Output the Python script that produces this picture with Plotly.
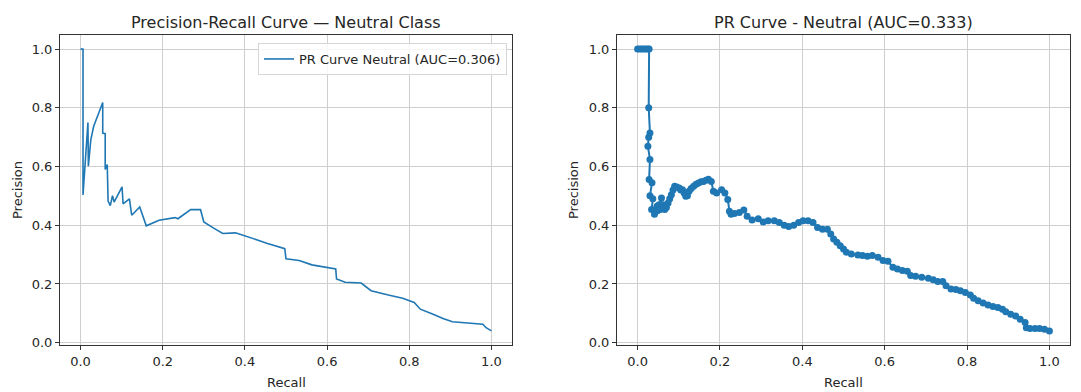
import plotly.graph_objects as go

W, H = 1081, 392
BLUE = "#1f77b4"
FONT = "DejaVu Sans"

# ---- Left chart: PR curve (AUC=0.306) ----
left_recall = [0.000, 0.006, 0.006, 0.018, 0.019, 0.025, 0.032, 0.040, 0.048, 0.054,
               0.054, 0.060, 0.060, 0.065, 0.067, 0.0724, 0.0778, 0.0817, 0.101, 0.1035,
               0.119, 0.1245, 0.144, 0.160, 0.191, 0.214, 0.230, 0.237, 0.268, 0.292,
               0.300, 0.323, 0.346, 0.377, 0.401, 0.432, 0.455, 0.479, 0.497, 0.500,
               0.532, 0.563, 0.598, 0.621, 0.623, 0.644, 0.683, 0.707, 0.749, 0.784,
               0.812, 0.827, 0.858, 0.882, 0.905, 0.952, 0.979, 0.987, 0.995, 1.000]
left_precision = [1.000, 1.000, 0.503, 0.750, 0.601, 0.691, 0.737, 0.768, 0.795, 0.818,
                  0.714, 0.712, 0.590, 0.607, 0.482, 0.467, 0.501, 0.479, 0.531, 0.473,
                  0.490, 0.434, 0.462, 0.398, 0.417, 0.422, 0.426, 0.422, 0.453, 0.453,
                  0.411, 0.391, 0.372, 0.374, 0.364, 0.349, 0.338, 0.327, 0.320, 0.286,
                  0.280, 0.265, 0.257, 0.251, 0.217, 0.206, 0.203, 0.177, 0.162, 0.151,
                  0.137, 0.114, 0.097, 0.082, 0.071, 0.065, 0.063, 0.051, 0.043, 0.040]

# ---- Right chart: PR curve (AUC=0.333) ----
right_recall = [0.000, 0.005, 0.010, 0.015, 0.020, 0.025, 0.028, 0.027, 0.030, 0.027,
                0.025, 0.030, 0.028, 0.035, 0.030, 0.037, 0.034, 0.041, 0.047, 0.048,
                0.052, 0.058, 0.055, 0.062, 0.066, 0.070, 0.074, 0.078, 0.082, 0.086,
                0.090, 0.095, 0.101, 0.105, 0.109, 0.113, 0.117, 0.121, 0.125, 0.130,
                0.136, 0.142, 0.148, 0.154, 0.160, 0.166, 0.172, 0.179,
                0.184, 0.192, 0.204, 0.212, 0.219, 0.223, 0.227, 0.235, 0.247, 0.258,
                0.266, 0.278, 0.293, 0.305, 0.317, 0.332, 0.344, 0.356, 0.367, 0.379,
                0.391, 0.402, 0.414, 0.426, 0.437, 0.449, 0.461, 0.469, 0.476, 0.484,
                0.492, 0.500, 0.507, 0.519, 0.535, 0.546, 0.558, 0.570, 0.584, 0.596,
                0.608, 0.620, 0.631, 0.643, 0.655, 0.663, 0.675, 0.690, 0.706, 0.718,
                0.729, 0.741, 0.749, 0.761, 0.773, 0.784, 0.796, 0.808, 0.816, 0.827,
                0.839, 0.851, 0.863, 0.875, 0.886, 0.894, 0.906, 0.918, 0.929, 0.941,
                0.944, 0.953, 0.965, 0.976, 0.988, 1.000]
right_precision = [1.000, 1.000, 1.000, 1.000, 1.000, 1.000, 1.000, 0.800, 0.714, 0.700,
                   0.669, 0.624, 0.556, 0.545, 0.500, 0.490, 0.454, 0.437, 0.465, 0.449,
                   0.470, 0.493, 0.454, 0.470, 0.454, 0.460, 0.476, 0.490, 0.504, 0.520,
                   0.533, 0.530, 0.527, 0.520, 0.521, 0.510, 0.499, 0.500, 0.516, 0.525,
                   0.533, 0.540, 0.544, 0.548, 0.549, 0.553, 0.557, 0.549,
                   0.516, 0.510, 0.521, 0.510, 0.488, 0.448, 0.437, 0.440, 0.443, 0.452,
                   0.431, 0.418, 0.422, 0.411, 0.415, 0.415, 0.409, 0.400, 0.396, 0.400,
                   0.409, 0.415, 0.415, 0.409, 0.392, 0.386, 0.386, 0.370, 0.353, 0.342,
                   0.330, 0.319, 0.308, 0.302, 0.299, 0.297, 0.294, 0.297, 0.291, 0.280,
                   0.277, 0.257, 0.251, 0.246, 0.243, 0.229, 0.226, 0.223, 0.219, 0.214,
                   0.208, 0.208, 0.194, 0.183, 0.181, 0.177, 0.171, 0.162, 0.151, 0.143,
                   0.135, 0.128, 0.123, 0.120, 0.114, 0.105, 0.097, 0.091, 0.080, 0.069,
                   0.051, 0.048, 0.048, 0.048, 0.046, 0.040]

tick_vals = [0.0, 0.2, 0.4, 0.6, 0.8, 1.0]
tick_text = ["0.0", "0.2", "0.4", "0.6", "0.8", "1.0"]

left_title = "Precision-Recall Curve — Neutral Class"
right_title = "PR Curve - Neutral (AUC=0.333)"
legend_name = "PR Curve Neutral (AUC=0.306)"

fig = go.Figure()
fig.add_trace(go.Scatter(x=left_recall, y=left_precision, mode="lines",
                         line=dict(color=BLUE, width=1.6), name=legend_name,
                         xaxis="x", yaxis="y", showlegend=True))
fig.add_trace(go.Scatter(x=right_recall, y=right_precision, mode="lines+markers",
                         line=dict(color=BLUE, width=2),
                         marker=dict(color=BLUE, size=7),
                         xaxis="x2", yaxis="y2", showlegend=False))

def px_x(p):
    return p / W

def px_y(p):
    return 1 - p / H

axis_common = dict(
    showgrid=True, gridcolor="#cfcfcf", gridwidth=1,
    showline=True, linecolor="#333333", linewidth=1, mirror=True,
    ticks="outside", ticklen=4, tickcolor="#333333",
    tickfont=dict(family=FONT, size=13, color="#262626"),
    zeroline=False, automargin=False,
    tickvals=tick_vals, ticktext=tick_text,
)

ydom = [px_y(345), px_y(35)]
fig.update_layout(
    width=W, height=H,
    margin=dict(l=0, r=0, t=0, b=0),
    paper_bgcolor="white", plot_bgcolor="white",
    font=dict(family=FONT, size=13, color="#262626"),
    xaxis=dict(domain=[px_x(60), px_x(512)], range=[-0.05, 1.05], anchor="y", **axis_common),
    yaxis=dict(domain=ydom, range=[-0.008, 1.048], anchor="x", **axis_common),
    xaxis2=dict(domain=[px_x(617), px_x(1070)], range=[-0.05, 1.05], anchor="y2", **axis_common),
    yaxis2=dict(domain=ydom, range=[-0.008, 1.048], anchor="x2", **axis_common),
    legend=dict(x=px_x(507), y=px_y(43), xanchor="right", yanchor="top",
                bgcolor="rgba(255,255,255,0.8)", bordercolor="#d6d6d6", borderwidth=1,
                font=dict(family=FONT, size=13, color="#262626"),
                itemwidth=30, tracegroupgap=0),
    showlegend=True,
)

annots = [
    dict(text=left_title, x=px_x(286), y=px_y(22), font=dict(size=16)),
    dict(text=right_title, x=px_x(843.5), y=px_y(22), font=dict(size=16)),
    dict(text="Recall", x=px_x(286), y=px_y(382), font=dict(size=13)),
    dict(text="Recall", x=px_x(843.5), y=px_y(382), font=dict(size=13)),
    dict(text="Precision", x=px_x(18), y=px_y(190), font=dict(size=13), textangle=-90),
    dict(text="Precision", x=px_x(574), y=px_y(190), font=dict(size=13), textangle=-90),
]
for a in annots:
    fig.add_annotation(xref="paper", yref="paper", showarrow=False,
                       xanchor="center", yanchor="middle",
                       font=dict(family=FONT, color="#262626", size=a["font"]["size"]),
                       **{k: v for k, v in a.items() if k != "font"})

fig.write_html("out.html",
               config={"displayModeBar": False},
               post_script="document.body.style.margin='0';document.body.style.overflow='hidden';")
